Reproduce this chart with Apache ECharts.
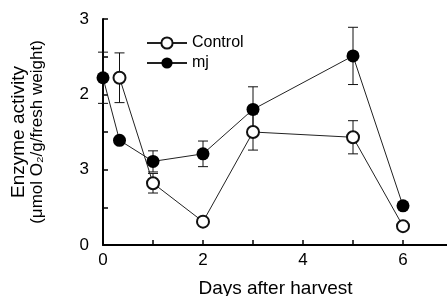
<!DOCTYPE html>
<html>
<head>
<meta charset="utf-8">
<script src="https://cdn.jsdelivr.net/npm/echarts@6/dist/echarts.min.js"></script>
<style>
  html, body { margin: 0; padding: 0; background: #fff; }
  #chart { width: 447px; height: 296px; }
</style>
</head>
<body>
<div id="chart"></div>
<script>
// data
const ctrlDays = [0.33, 1, 2, 3, 5, 6];
const ctrlVals = [2.22, 0.82, 0.31, 1.50, 1.43, 0.25];
const ctrlErr = [0.33, 0.13, 0.03, 0.24, 0.22, 0.03];

const mjDays = [0, 0.33, 1, 2, 3, 5, 6];
const mjVals = [2.22, 1.39, 1.11, 1.21, 1.80, 2.51, 0.52];
const mjErr = [0.34, 0, 0.14, 0.17, 0.30, 0.38, 0];

const xTickLabels = { 0: '0', 2: '2', 4: '4', 6: '6' };
// as printed on the scan
const yTickLabels = { 0: '0', 1: '3', 2: '2', 3: '3' };

const font = 'Liberation Sans, Arial, Helvetica, sans-serif';

let pairs = (xs, ys) => xs.map((x, i) => [x, ys[i]]);
let bars = (xs, ys, es) => xs.map((x, i) => [x, ys[i] - es[i], ys[i] + es[i]]).filter((d, i) => es[i] > 0);

let errRender = function (params, api) {
    let x = api.value(0);
    let lo = api.coord([x, api.value(1)]);
    let hi = api.coord([x, api.value(2)]);
    let w = 5;
    let style = { stroke: '#111', lineWidth: 1 };
    return {
        type: 'group',
        children: [
            { type: 'line', shape: { x1: lo[0], y1: lo[1], x2: hi[0], y2: hi[1] }, style: style },
            { type: 'line', shape: { x1: lo[0] - w, y1: lo[1], x2: lo[0] + w, y2: lo[1] }, style: style },
            { type: 'line', shape: { x1: hi[0] - w, y1: hi[1], x2: hi[0] + w, y2: hi[1] }, style: style }
        ]
    };
};

let myChart = echarts.init(document.getElementById('chart'));
let option = {
    animation: false,
    textStyle: { fontFamily: font, color: '#000' },
    grid: { left: 103, top: 19, bottom: 51, right: -1, outerBoundsMode: 'none', containLabel: false },
    legend: {
        orient: 'vertical',
        left: 141,
        top: 30,
        itemWidth: 40,
        itemHeight: 14,
        itemGap: 4,
        data: ['Control', 'mj'],
        textStyle: { fontSize: 16, color: '#000', fontFamily: font }
    },
    xAxis: {
        type: 'value',
        min: 0,
        max: 6.9,
        interval: 1,
        name: 'Days after harvest',
        nameLocation: 'middle',
        nameGap: 34,
        nameTextStyle: { fontSize: 19, color: '#000' },
        splitLine: { show: false },
        axisLine: { lineStyle: { color: '#000', width: 2 } },
        axisTick: { inside: true, length: 5, lineStyle: { color: '#000', width: 1.5 } },
        axisLabel: {
            fontSize: 17, color: '#000', margin: 7,
            formatter: v => xTickLabels[v] || ''
        }
    },
    yAxis: {
        type: 'value',
        min: 0,
        max: 3,
        interval: 0.5,
        name: '{a|Enzyme activity}\n{b|(μmol O₂/g/fresh weight)}',
        nameLocation: 'middle',
        nameRotate: 90,
        nameGap: 57,
        nameTextStyle: {
            color: '#000',
            rich: {
                a: { fontSize: 19, lineHeight: 18, color: '#000', fontFamily: font },
                b: { fontSize: 17, lineHeight: 18, color: '#000', fontFamily: font }
            }
        },
        splitLine: { show: false },
        axisLine: { show: true, lineStyle: { color: '#000', width: 2 } },
        axisTick: { inside: true, length: 5, lineStyle: { color: '#000', width: 1.5 } },
        axisLabel: {
            fontSize: 17, color: '#000', margin: 14,
            formatter: v => yTickLabels[v] || ''
        }
    },
    series: [
        {
            name: 'ctrlErr', type: 'custom', renderItem: errRender,
            data: bars(ctrlDays, ctrlVals, ctrlErr), encode: { x: 0, y: [1, 2] }, z: 1, silent: true
        },
        {
            name: 'mjErr', type: 'custom', renderItem: errRender,
            data: bars(mjDays, mjVals, mjErr), encode: { x: 0, y: [1, 2] }, z: 1, silent: true
        },
        {
            name: 'Control',
            type: 'line',
            data: pairs(ctrlDays, ctrlVals),
            symbol: 'emptyCircle',
            symbolSize: 12,
            z: 3,
            lineStyle: { width: 1, color: '#222' },
            itemStyle: { color: '#111', borderWidth: 1 }
        },
        {
            name: 'mj',
            type: 'line',
            data: pairs(mjDays, mjVals),
            symbol: 'circle',
            symbolSize: 13,
            z: 4,
            lineStyle: { width: 1, color: '#222' },
            itemStyle: { color: '#000' }
        }
    ]
};
myChart.setOption(option);
</script>
</body>
</html>
